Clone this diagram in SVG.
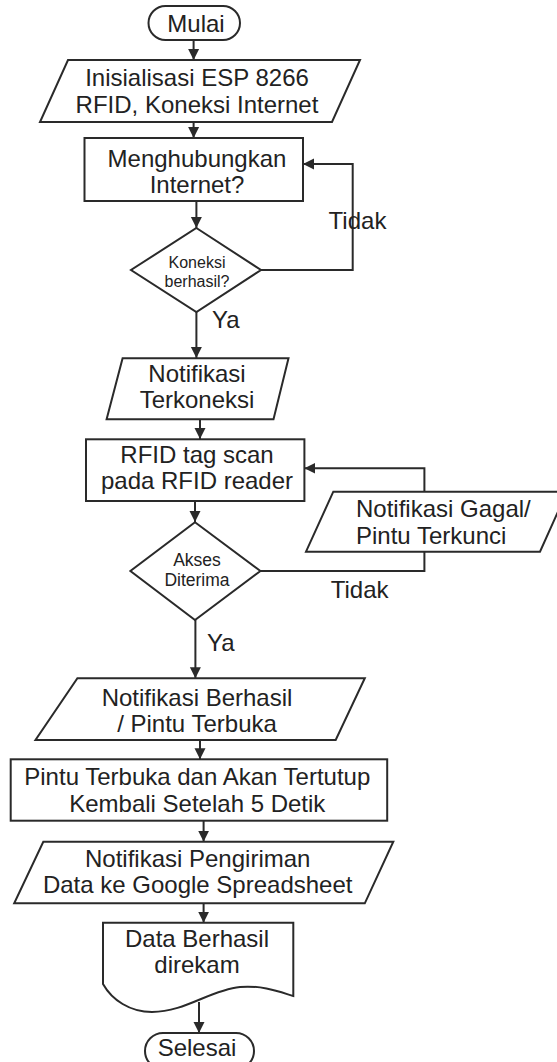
<svg xmlns="http://www.w3.org/2000/svg" width="557" height="1062" viewBox="0 0 557 1062">
<defs>
<style>
.s{fill:#fff;stroke:#2a2a2a;stroke-width:2}
.c{fill:none;stroke:#2a2a2a;stroke-width:2}
text{font-family:"Liberation Sans",Arial,sans-serif;fill:#222;font-size:24px}
.m{text-anchor:middle}
.sm{font-size:16px}
.md{font-size:17.5px}
</style>
<marker id="ah" markerUnits="userSpaceOnUse" markerWidth="12" markerHeight="12" viewBox="0 0 12 12" refX="11" refY="6" orient="auto">
<path d="M0,0.5 L11,6 L0,11.5 Z" fill="#2a2a2a"/>
</marker>
</defs>
<rect width="557" height="1062" fill="#fff"/>
<g id="connectors">
<path class="c" d="M193.6,40 V60" marker-end="url(#ah)"/>
<path class="c" d="M193.6,122 V138" marker-end="url(#ah)"/>
<path class="c" d="M196.4,201 V228" marker-end="url(#ah)"/>
<path class="c" d="M261,270 H352.7 V164 H303" marker-end="url(#ah)"/>
<path class="c" d="M196.4,312 V358" marker-end="url(#ah)"/>
<path class="c" d="M200,419 V439" marker-end="url(#ah)"/>
<path class="c" d="M195,501 V522" marker-end="url(#ah)"/>
<path class="c" d="M260.4,571 H424.4 V551.7"/>
<path class="c" d="M424.4,491.7 V468.3 H304.4" marker-end="url(#ah)"/>
<path class="c" d="M195.4,620 V678.3" marker-end="url(#ah)"/>
<path class="c" d="M200,740 V759.3" marker-end="url(#ah)"/>
<path class="c" d="M203.6,820.7 V841.7" marker-end="url(#ah)"/>
<path class="c" d="M203.6,903.3 V922.7" marker-end="url(#ah)"/>
<path class="c" d="M199,1002 V1033" marker-end="url(#ah)"/>
<text x="328.6" y="229">Tidak</text>
<text x="212" y="328.3">Ya</text>
<text x="330.7" y="598.3">Tidak</text>
<text x="207" y="650.7">Ya</text>
</g>
<g id="mulai">
<rect class="s" x="148.5" y="6" width="91.5" height="34" rx="17"/>
<text class="m" x="196" y="32">Mulai</text>
</g>
<g id="init">
<polygon class="s" points="68,60 360,60 332,122 40,122"/>
<text class="m" x="197" y="86">Inisialisasi ESP 8266</text>
<text class="m" x="197" y="113">RFID, Koneksi Internet</text>
</g>
<g id="connect">
<rect class="s" x="84.5" y="138" width="218.5" height="63"/>
<text class="m" x="197" y="167">Menghubungkan</text>
<text class="m" x="197" y="193">Internet?</text>
</g>
<g id="decision1">
<polygon class="s" points="196.4,228 261,270 196.4,312 131,270"/>
<text class="m sm" x="197" y="268">Koneksi</text>
<text class="m sm" x="197" y="287">berhasil?</text>
</g>
<g id="notif-connected">
<polygon class="s" points="122.6,358.3 288.5,358.3 273.5,419.3 106.6,419.3"/>
<text class="m" x="197" y="381.7">Notifikasi</text>
<text class="m" x="197" y="408.3">Terkoneksi</text>
</g>
<g id="rfid-scan">
<rect class="s" x="86" y="439.3" width="218.4" height="61.7"/>
<text class="m" x="197" y="462.7">RFID tag scan</text>
<text class="m" x="197" y="489.3">pada RFID reader</text>
</g>
<g id="notif-fail">
<polygon class="s" points="333.3,491.7 567,491.7 540,551.7 306,551.7"/>
<text x="356" y="516.7">Notifikasi Gagal/</text>
<text x="356" y="544">Pintu Terkunci</text>
</g>
<g id="decision2">
<polygon class="s" points="195,522.3 260.4,571 195,620 130.4,571"/>
<text class="m md" x="197" y="566">Akses</text>
<text class="m md" x="197" y="586">Diterima</text>
</g>
<g id="notif-success">
<polygon class="s" points="77.4,678.3 364.8,678.3 335.7,740 35.5,740"/>
<text class="m" x="197" y="705.7">Notifikasi Berhasil</text>
<text class="m" x="197" y="731.7">/ Pintu Terbuka</text>
</g>
<g id="door">
<rect class="s" x="10.7" y="759.3" width="376.5" height="61.4"/>
<text class="m" x="197.3" y="785">Pintu Terbuka dan Akan Tertutup</text>
<text class="m" x="197.3" y="811.7">Kembali Setelah 5 Detik</text>
</g>
<g id="notif-send">
<polygon class="s" points="43.3,841.7 393.3,841.7 364.8,903.3 14.2,903.3"/>
<text class="m" x="197.7" y="866.7">Notifikasi Pengiriman</text>
<text class="m" x="197.7" y="893.3">Data ke Google Spreadsheet</text>
</g>
<g id="recorded">
<path class="s" d="M103,922.7 V984 C112,1000 130,1012 152,1012 C185,1012 210,990 240,987 C262,985 280,992 293.3,996 V922.7 Z"/>
<text class="m" x="197" y="946.7">Data Berhasil</text>
<text class="m" x="197" y="973.3">direkam</text>
</g>
<g id="selesai">
<rect class="s" x="145" y="1033" width="109" height="36" rx="18"/>
<text class="m" x="197" y="1056">Selesai</text>
</g>
</svg>
